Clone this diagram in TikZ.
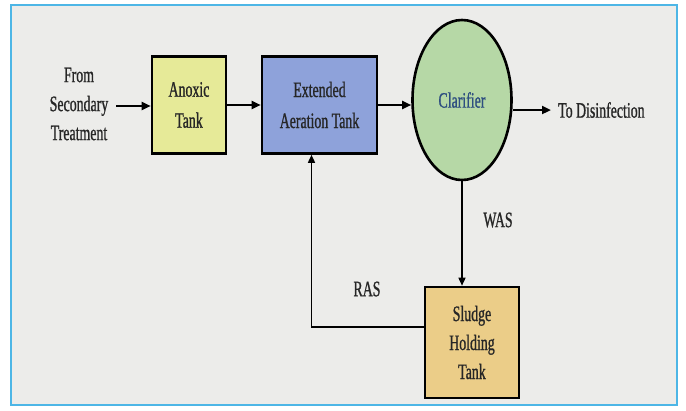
\documentclass[tikz,border=0pt]{standalone}
\usepackage{fontspec}
\setmainfont{Liberation Serif}[FakeStretch=0.63,FakeBold=0.9]
\usetikzlibrary{arrows.meta,shapes.geometric}
\definecolor{bgc}{HTML}{ECECEA}
\definecolor{framec}{HTML}{4DB6E6}
\definecolor{anoxc}{HTML}{E6EA98}
\definecolor{extc}{HTML}{8EA2DA}
\definecolor{clarc}{HTML}{B6D8A6}
\definecolor{sludc}{HTML}{EBCD88}
\definecolor{clart}{HTML}{2E4F80}
\definecolor{txt}{HTML}{262626}
\tikzset{
  tank/.style={draw=black, line width=2.6pt, align=center, inner sep=0pt,
    font=\fontsize{22}{31}\selectfont, text=txt},
  lbl/.style={align=center, font=\fontsize{22}{29}\selectfont, text=txt, inner sep=1pt},
  flow/.style={line width=1.9pt, -{Triangle[length=9pt,width=8pt]}},
  plain/.style={line width=1.5pt}
}
\begin{document}
\begin{tikzpicture}[x=1pt,y=-1pt]
\useasboundingbox (0,0) rectangle (686,410);
\fill[white] (0,0) rectangle (686,410);
\draw[framec, line width=2pt, fill=bgc] (11,5) rectangle (677,405);

\node[lbl] (src) at (79,104) {From\\Secondary\\Treatment};
\node[tank, fill=anoxc, minimum width=74pt, minimum height=97pt] (anox) at (189,105) {Anoxic\\Tank};
\node[tank, fill=extc, minimum width=115pt, minimum height=97pt] (ext) at (319.5,105) {Extended\\Aeration Tank};
\node[tank, ellipse, fill=clarc, minimum width=99pt, minimum height=160pt, text=clart] (clar) at (462,100) {Clarifier};
\node[lbl, anchor=west] (out) at (557,110) {To Disinfection};
\node[tank, fill=sludc, minimum width=94pt, minimum height=111pt, font=\fontsize{22}{29}\selectfont] (slud) at (472,342.5) {Sludge\\Holding\\Tank};
\node[lbl] (was) at (498,220) {WAS};
\node[lbl] (ras) at (367,289) {RAS};

\coordinate (srcend) at (116,106);
\draw[flow] (srcend) -- (srcend -| anox.west);
\draw[flow] (anox.east) -- (ext.west);
\draw[flow] (ext.east) -- (ext.east -| clar.west);
\draw[flow, line width=2.4pt] (out.west -| clar.east) -- ([xshift=-6pt]out.west);
\draw[plain, -{Triangle[length=8pt,width=7pt]}] (clar.south) -- (clar.south |- slud.north);
\coordinate (rasin) at ([yshift=15.5pt]slud.west);
\coordinate (rasup) at ([xshift=-8pt]ext.south);
\draw[plain, -{Triangle[length=8pt,width=7pt]}] (rasin) -| (rasup);
\end{tikzpicture}
\end{document}
